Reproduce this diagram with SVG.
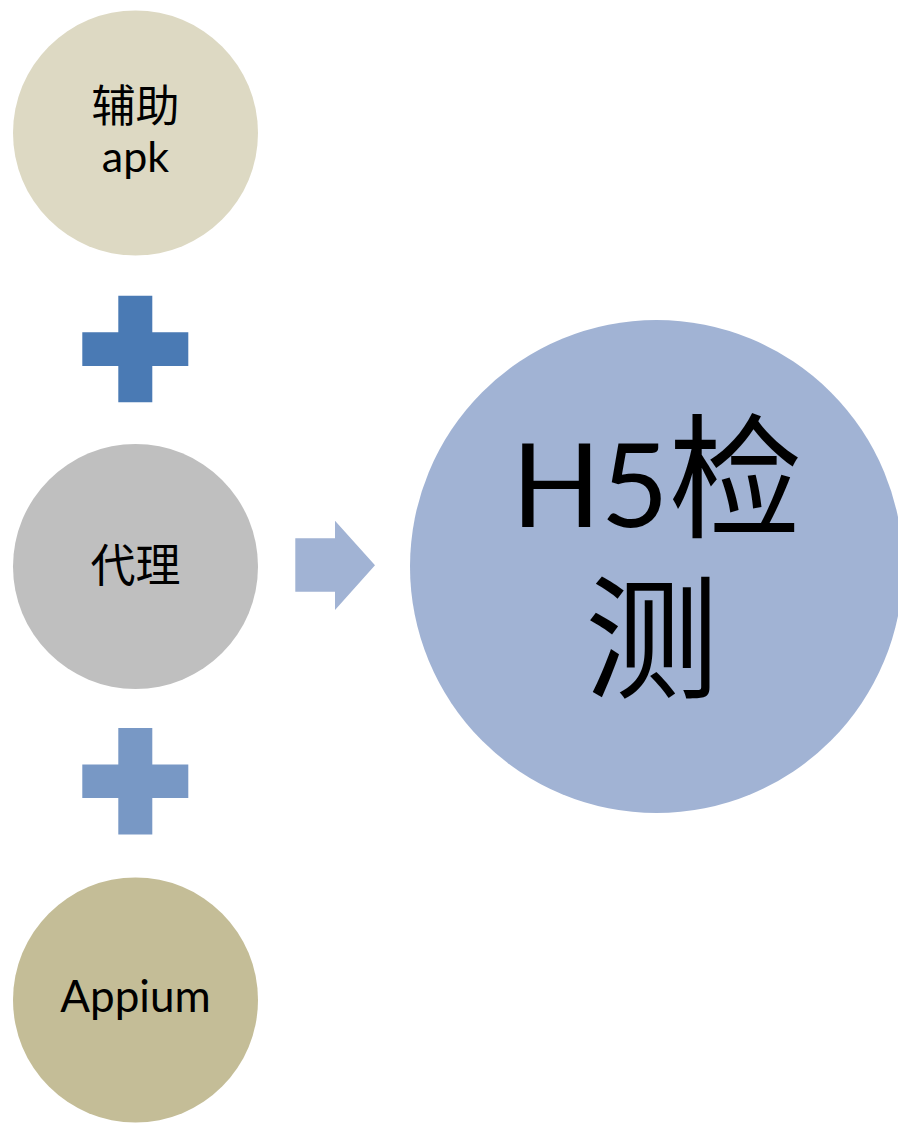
<svg xmlns="http://www.w3.org/2000/svg" width="898" height="1124" viewBox="0 0 898 1124">
<style>
.lbl{font-family:Lato,"Noto Sans CJK SC",sans-serif;fill:#000;text-anchor:middle}
.cjk{font-family:"Noto Sans CJK SC",sans-serif}
</style>
<rect width="898" height="1124" fill="#fff"/>
<g id="node-fuzhu">
<circle cx="135.5" cy="133" r="122.5" fill="#DDD9C3"/>
<text class="lbl cjk" x="135.5" y="122" font-size="44">辅助</text>
<text class="lbl" x="135.5" y="172" font-size="43">apk</text>
</g>
<g id="node-daili">
<circle cx="135.5" cy="566.5" r="122.5" fill="#BFBFBF"/>
<text class="lbl cjk" x="135.5" y="582" font-size="45">代理</text>
</g>
<g id="node-appium">
<circle cx="135.5" cy="1000" r="122.5" fill="#C4BD97"/>
<text class="lbl" x="135.5" y="1012" font-size="44">Appium</text>
</g>
<g id="node-h5">
<circle cx="656.5" cy="566.5" r="246.5" fill="#A1B3D4"/>
<text class="lbl" x="657" y="527"><tspan font-size="117">H5</tspan><tspan class="cjk" font-size="134">检</tspan></text>
<text class="lbl cjk" x="652" y="688" font-size="134">测</text>
</g>
<g id="connectors">
<path id="plus1" d="M118.3 295.7H152.3V332.3H188.3V366H152.3V402.3H118.3V366H82.3V332.3H118.3Z" fill="#4A7AB4"/>
<path id="plus2" d="M118.3 728H152.3V764.5H188.3V798H152.3V834.5H118.3V798H82.3V764.5H118.3Z" fill="#7898C5"/>
<path id="arrow" d="M295.3 538.3H335V520.7L375 565.3L335 610V591.7H295.3Z" fill="#A1B3D4"/>
</g>
</svg>
